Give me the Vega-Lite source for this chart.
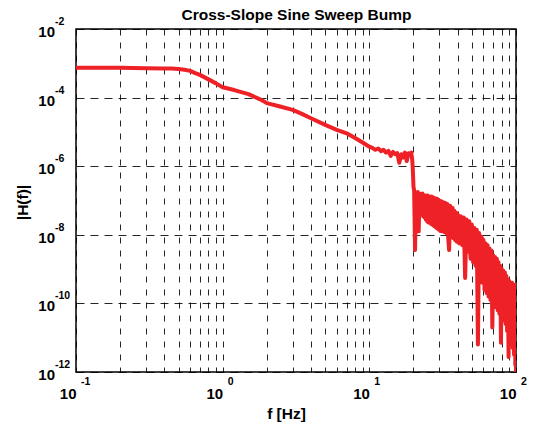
{
  "$schema": "https://vega.github.io/schema/vega-lite/v6.json",
  "width": 440,
  "height": 343,
  "autosize": "none",
  "padding": {"left": 76, "top": 29, "right": 22, "bottom": 51},
  "background": "white",
  "config": {
    "font": "Liberation Sans",
    "view": {"stroke": "black", "strokeWidth": 1.5}
  },
  "resolve": {"axis": {"x": "independent"}},
  "layer": [
    {
      "data": {"values": [
        {"f": 0.1, "h": 7.4e-4}, {"f": 0.2, "h": 7.4e-4}, {"f": 0.3, "h": 7.2e-4}, {"f": 0.4, "h": 7.1e-4},
        {"f": 0.45, "h": 7.0e-4}, {"f": 0.5, "h": 6.8e-4}, {"f": 0.55, "h": 6.5e-4}, {"f": 0.6, "h": 6.0e-4},
        {"f": 0.65, "h": 5.2e-4}, {"f": 0.7, "h": 4.6e-4}, {"f": 0.8, "h": 3.4e-4},
        {"f": 0.9, "h": 2.6e-4}, {"f": 1.0, "h": 2.0e-4}, {"f": 1.2, "h": 1.66e-4}, {"f": 1.5, "h": 1.26e-4},
        {"f": 1.8, "h": 8.9e-5}, {"f": 2.0, "h": 6.9e-5}, {"f": 2.5, "h": 5.4e-5}, {"f": 3.0, "h": 4.4e-5},
        {"f": 3.5, "h": 3.3e-5}, {"f": 4.0, "h": 2.5e-5}, {"f": 5.0, "h": 1.6e-5}, {"f": 6.0, "h": 1.15e-5},
        {"f": 7.0, "h": 9.1e-6}, {"f": 8.0, "h": 6.6e-6}, {"f": 9.0, "h": 4.9e-6}, {"f": 10.0, "h": 3.7e-6},
        {"f": 10.5, "h": 3.4e-6}, {"f": 11.0, "h": 3.0e-6}, {"f": 11.5, "h": 3.3e-6}, {"f": 12.0, "h": 2.75e-6},
        {"f": 12.5, "h": 3.0e-6}, {"f": 13.0, "h": 2.5e-6}, {"f": 13.5, "h": 2.8e-6}, {"f": 14.0, "h": 2.0e-6},
        {"f": 14.5, "h": 2.6e-6}, {"f": 15.0, "h": 2.24e-6}, {"f": 15.5, "h": 2.4e-6}, {"f": 16.0, "h": 1.26e-6},
        {"f": 16.5, "h": 2.24e-6}, {"f": 17.0, "h": 1.78e-6}, {"f": 17.5, "h": 2.5e-6}, {"f": 18.0, "h": 1.41e-6},
        {"f": 18.5, "h": 2.4e-6}, {"f": 19.0, "h": 2.24e-6}, {"f": 19.3, "h": 2.5e-6}, {"f": 19.6, "h": 1.58e-6},
        {"f": 19.8, "h": 7.9e-7}, {"f": 20.0, "h": 2.5e-7}, {"f": 20.2, "h": 2.0e-7}, {"f": 20.5, "h": 3.6e-9},
        {"f": 20.8, "h": 1.6e-7}, {"f": 21.1, "h": 3.2e-8}, {"f": 21.4, "h": 1.78e-7}, {"f": 21.7, "h": 1.26e-8},
        {"f": 22.0, "h": 1.6e-7}, {"f": 22.25, "h": 5.0e-8}, {"f": 22.5, "h": 1.5e-7}, {"f": 22.75, "h": 4.0e-8},
        {"f": 23.0, "h": 1.6e-7}, {"f": 23.25, "h": 3.5e-8}, {"f": 23.5, "h": 1.45e-7}, {"f": 23.75, "h": 3.2e-8},
        {"f": 24.0, "h": 1.41e-7}, {"f": 24.25, "h": 2.8e-8}, {"f": 24.5, "h": 1.4e-7}, {"f": 24.75, "h": 2.5e-8},
        {"f": 25.0, "h": 1.41e-7}, {"f": 25.25, "h": 2.3e-8}, {"f": 25.5, "h": 1.3e-7}, {"f": 25.75, "h": 2.24e-8},
        {"f": 26.0, "h": 1.26e-7}, {"f": 26.25, "h": 2.1e-8}, {"f": 26.5, "h": 1.3e-7}, {"f": 26.75, "h": 2.0e-8},
        {"f": 27.0, "h": 1.26e-7}, {"f": 27.25, "h": 1.9e-8}, {"f": 27.5, "h": 1.2e-7}, {"f": 27.75, "h": 1.78e-8},
        {"f": 28.0, "h": 1.12e-7}, {"f": 28.25, "h": 1.7e-8}, {"f": 28.5, "h": 1.15e-7}, {"f": 28.75, "h": 1.58e-8},
        {"f": 29.0, "h": 1.12e-7}, {"f": 29.25, "h": 1.5e-8}, {"f": 29.5, "h": 1.05e-7}, {"f": 29.75, "h": 1.41e-8},
        {"f": 30, "h": 1.0e-7}, {"f": 30.5, "h": 1.3e-8}, {"f": 31, "h": 9.5e-8}, {"f": 31.5, "h": 1.26e-8},
        {"f": 32, "h": 8.9e-8}, {"f": 32.5, "h": 1.2e-8}, {"f": 33, "h": 8.5e-8}, {"f": 33.5, "h": 1.12e-8},
        {"f": 34, "h": 7.9e-8}, {"f": 34.5, "h": 8.0e-9}, {"f": 35, "h": 3.6e-9}, {"f": 35.5, "h": 7.0e-8},
        {"f": 36, "h": 6.3e-8}, {"f": 36.5, "h": 8.5e-9}, {"f": 37, "h": 6.0e-8}, {"f": 37.5, "h": 7.9e-9},
        {"f": 38, "h": 5.0e-8}, {"f": 38.5, "h": 7.0e-9}, {"f": 39, "h": 4.5e-8}, {"f": 39.5, "h": 6.3e-9},
        {"f": 40, "h": 4.0e-8}, {"f": 41, "h": 5.6e-9},
        {"f": 42, "h": 3.5e-8}, {"f": 43, "h": 5.0e-9}, {"f": 44, "h": 3.2e-8}, {"f": 45, "h": 5.5e-10},
        {"f": 46, "h": 2.8e-8}, {"f": 47, "h": 3.2e-9}, {"f": 48, "h": 2.5e-8}, {"f": 49, "h": 2.0e-9},
        {"f": 50, "h": 2.0e-8}, {"f": 51, "h": 1.58e-9}, {"f": 52, "h": 1.58e-8}, {"f": 53, "h": 1.26e-9},
        {"f": 54, "h": 1.41e-8}, {"f": 55, "h": 6.3e-12}, {"f": 56, "h": 1.12e-8}, {"f": 57, "h": 6.3e-10},
        {"f": 58, "h": 8.9e-9}, {"f": 59, "h": 4.0e-10}, {"f": 60, "h": 7.1e-9}, {"f": 61, "h": 2.5e-10},
        {"f": 62, "h": 5.6e-9}, {"f": 63, "h": 2.0e-10}, {"f": 64, "h": 5.0e-9}, {"f": 65, "h": 1.58e-10},
        {"f": 66, "h": 4.0e-9}, {"f": 67, "h": 1.26e-10}, {"f": 68, "h": 3.5e-9}, {"f": 69, "h": 2.0e-11},
        {"f": 70, "h": 2.5e-9}, {"f": 71, "h": 1.0e-10}, {"f": 72, "h": 2.24e-9}, {"f": 73, "h": 7.9e-11},
        {"f": 74, "h": 2.0e-9}, {"f": 75, "h": 6.3e-11}, {"f": 76, "h": 1.58e-9}, {"f": 77, "h": 5.0e-11},
        {"f": 78, "h": 1.26e-9}, {"f": 79, "h": 7.1e-12}, {"f": 80, "h": 1.0e-9}, {"f": 81, "h": 4.0e-11},
        {"f": 82, "h": 8.9e-10}, {"f": 83, "h": 3.2e-11}, {"f": 84, "h": 7.9e-10}, {"f": 85, "h": 2.5e-11},
        {"f": 86, "h": 6.3e-10}, {"f": 87, "h": 1.58e-11}, {"f": 88, "h": 5.0e-10}, {"f": 89, "h": 2.75e-12},
        {"f": 90, "h": 4.5e-10}, {"f": 91, "h": 1.0e-11}, {"f": 92, "h": 4.0e-10}, {"f": 93, "h": 7.9e-12},
        {"f": 94, "h": 4.0e-10}, {"f": 95, "h": 5.0e-12}, {"f": 96, "h": 3.5e-10}, {"f": 97, "h": 3.2e-12},
        {"f": 98, "h": 3.5e-10}, {"f": 99, "h": 1.58e-12}, {"f": 99.5, "h": 3.2e-10}, {"f": 100, "h": 1.0e-12}
      ]},
      "mark": {"type": "line", "color": "#ee2127", "strokeWidth": 4, "clip": true, "strokeJoin": "round"},
      "encoding": {
        "x": {
          "field": "f", "type": "quantitative",
          "scale": {"type": "log", "domain": [0.1, 100], "nice": false},
          "axis": {
            "title": "f [Hz]",
            "titleFont": "Liberation Sans", "titleFontSize": 15.5, "titleFontWeight": "bold", "titleColor": "black",
            "titleX": 210, "titleY": 46, "titleBaseline": "alphabetic", "titleAlign": "center",
            "values": [0.1, 0.2, 0.3, 0.4, 0.5, 0.6, 0.7, 0.8, 0.9, 1, 2, 3, 4, 5, 6, 7, 8, 9, 10, 20, 30, 40, 50, 60, 70, 80, 90, 100],
            "labelExpr": "abs(log(datum.value)/LN10 - round(log(datum.value)/LN10)) > 0.01 ? '' : '10'",
            "labelFontSize": 15, "labelFontWeight": "bold", "labelColor": "black",
            "labelBaseline": "alphabetic", "labelPadding": 26, "labelAlign": "right", "labelDx": 4,
            "labelOverlap": false, "labelFlush": false,
            "grid": true, "gridColor": "black", "gridDash": [6, 7], "gridOpacity": 0.85, "gridWidth": 1,
            "ticks": false, "domain": false
          }
        },
        "y": {
          "field": "h", "type": "quantitative",
          "scale": {"type": "log", "domain": [1e-12, 1e-2], "nice": false},
          "axis": {
            "title": "|H(f)|",
            "titleFont": "Liberation Sans", "titleFontSize": 15.5, "titleFontWeight": "bold", "titleColor": "black",
            "titleX": -49, "titleY": 173, "titleAngle": -90, "titleBaseline": "alphabetic", "titleAlign": "center",
            "values": [1e-12, 1e-10, 1e-8, 1e-6, 1e-4, 1e-2],
            "labelExpr": "'10'",
            "labelFontSize": 15, "labelFontWeight": "bold", "labelColor": "black",
            "labelPadding": 21.5, "labelAlign": "right", "labelBaseline": "alphabetic", "labelOffset": 7.5,
            "labelOverlap": false, "labelFlush": false,
            "grid": true, "gridColor": "black", "gridDash": [8, 6], "gridOpacity": 0.85, "gridWidth": 1,
            "ticks": false, "domain": false
          }
        }
      }
    },
    {
      "data": {"values": [
        {"f": 0.1, "h": 1e-12, "e": "-1"}, {"f": 1, "h": 1e-12, "e": "0"},
        {"f": 10, "h": 1e-12, "e": "1"}, {"f": 100, "h": 1e-12, "e": "2"}
      ]},
      "mark": {"type": "text", "align": "left", "baseline": "alphabetic", "dx": 5, "dy": 13, "fontSize": 10.5, "fontWeight": "bold", "color": "black", "font": "Liberation Sans"},
      "encoding": {
        "x": {
          "field": "f", "type": "quantitative",
          "axis": {
            "orient": "top", "title": "Cross-Slope Sine Sweep Bump",
            "titleFont": "Liberation Sans", "titleFontSize": 15.5, "titleFontWeight": "bold", "titleColor": "black",
            "titleX": 220, "titleY": -10, "titleBaseline": "alphabetic", "titleAlign": "center",
            "labels": false, "ticks": false, "domain": false, "grid": false
          }
        },
        "y": {"field": "h", "type": "quantitative"},
        "text": {"field": "e"}
      }
    },
    {
      "data": {"values": [
        {"f": 0.1, "h": 1e-2, "e": "-2"}, {"f": 0.1, "h": 1e-4, "e": "-4"},
        {"f": 0.1, "h": 1e-6, "e": "-6"}, {"f": 0.1, "h": 1e-8, "e": "-8"},
        {"f": 0.1, "h": 1e-10, "e": "-10"}, {"f": 0.1, "h": 1e-12, "e": "-12"}
      ]},
      "mark": {"type": "text", "align": "left", "baseline": "alphabetic", "dx": -21, "dy": -4, "fontSize": 10.5, "fontWeight": "bold", "color": "black", "font": "Liberation Sans"},
      "encoding": {
        "x": {"field": "f", "type": "quantitative", "axis": null},
        "y": {"field": "h", "type": "quantitative"},
        "text": {"field": "e"}
      }
    }
  ]
}
